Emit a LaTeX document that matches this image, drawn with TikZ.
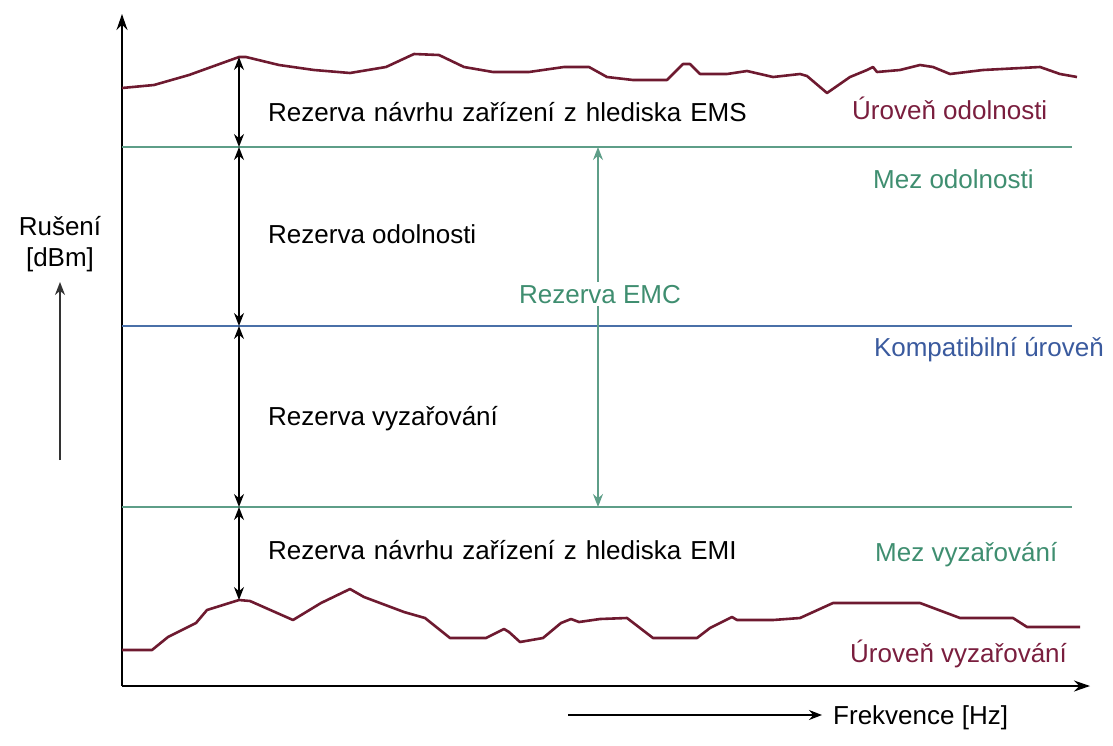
\documentclass[tikz,border=0pt]{standalone}
\usepackage{fontspec}
\setmainfont{Liberation Sans}
\usetikzlibrary{arrows.meta}

\definecolor{curvered}{HTML}{6E1A30}
\definecolor{textred}{HTML}{7A1E3E}
\definecolor{limgreen}{HTML}{5E9E88}
\definecolor{textgreen}{HTML}{3F8E70}
\definecolor{compblue}{HTML}{4A70A8}
\definecolor{textblue}{HTML}{3A5A9E}

\begin{document}
\begin{tikzpicture}[
    x=1pt, y=-1pt,
    >={Stealth[length=13pt, width=10pt]},
    axis/.style   = {line width=1.6pt, -{Stealth[length=16pt, width=11pt]}},
    level/.style  = {line width=1.6pt},
    noise/.style  = {line width=2.6pt, curvered, line join=round},
    margin/.style = {line width=1.4pt, <->},
    lab/.style    = {font=\fontsize{26}{31}\selectfont, inner sep=0pt, anchor=base west},
    wide/.style   = {execute at begin node={\spaceskip=9pt\relax}}
]

\useasboundingbox (0,0) rectangle (1113,745);

% Axes
\coordinate (O)    at (122,686);
\coordinate (ytip) at (122,14);
\coordinate (xtip) at (1090,686);
\draw[axis] (O) -- (ytip);
\draw[axis] (O) -- (xtip);

% Limit and compatibility levels
\foreach \n/\y/\c in {imm/147/limgreen, comp/326/compblue, emi/507/limgreen}
    \draw[level, \c] (122,\y) coordinate (\n L) -- (1072,\y) coordinate (\n R);

% Immunity level and emission level
\draw[noise] plot coordinates {(122,88) (154,85) (189,75) (239,57) (246,57)
    (279,65) (314,70) (350,73) (386,67) (414,54) (439,55) (464,67) (493,72)
    (529,72) (564,67) (589,67) (607,77) (633,80) (667,80) (683,64) (690,64)
    (700,74) (727,74) (747,71) (773,77) (800,74) (807,76) (827,93) (850,77)
    (867,70) (873,67) (877,72) (900,70) (920,65) (933,67) (950,74) (983,70)
    (1040,67) (1060,74) (1077,77)};
\draw[noise] plot coordinates {(122,650) (152,650) (168,637) (196,623) (207,610)
    (239,600) (250,601) (293,620) (321,603) (350,589) (364,597) (404,612)
    (425,618) (450,638) (486,638) (504,629) (509,632) (520,642) (543,638)
    (561,623) (571,619) (579,622) (600,619) (627,618) (653,638) (697,638)
    (710,628) (732,617) (737,620) (773,620) (800,618) (833,603) (920,603)
    (960,618) (1013,618) (1027,627) (1080,627)};

% Margins between the levels
\coordinate (m0) at (239,57);
\coordinate (m1) at (239,147);
\coordinate (m2) at (239,326);
\coordinate (m3) at (239,507);
\coordinate (m4) at (239,600);
\foreach \a/\b in {m0/m1, m1/m2, m2/m3, m3/m4}
    \draw[margin] (\a) -- (\b);

\node[lab, wide] (ems)  at (268,121) {Rezerva návrhu zařízení z hlediska EMS};
\node[lab]       (odol) at (268,243) {Rezerva odolnosti};
\node[lab]       (vyz)  at (268,425) {Rezerva vyzařování};
\node[lab, wide] (emi)  at (268,559) {Rezerva návrhu zařízení z hlediska EMI};

% EMC margin
\coordinate (c1) at (598,147);
\coordinate (c2) at (598,507);
\draw[margin, limgreen] (c1) -- (c2);
\node[lab, anchor=base, textgreen, fill=white, inner sep=3pt] (emc) at (600,303) {Rezerva EMC};

% Level names
\node[lab, textred]   (immlev)  at (852,119) {Úroveň odolnosti};
\node[lab, textgreen] (immlim)  at (873,188) {Mez odolnosti};
\node[lab, textblue, anchor=base east] (complev) at (1104,356) {Kompatibilní úroveň};
\node[lab, textgreen] (emilim)  at (875,561) {Mez vyzařování};
\node[lab, textred]   (emilev)  at (850,662) {Úroveň vyzařování};

% Axis names
\node[lab, anchor=base, align=center] (yname) at (60,266) {Rušení\\{[dBm]}};
\coordinate (yup0) at (60,460);
\coordinate (yup1) at (60,282);
\draw[->, line width=1.8pt, black!80] (yup0) -- (yup1);

\coordinate (xr0) at (568,715);
\coordinate (xr1) at (822,715);
\draw[->, line width=1.4pt] (xr0) -- (xr1);
\node[lab] (xname) at (833,724) {Frekvence [Hz]};

\end{tikzpicture}
\end{document}
